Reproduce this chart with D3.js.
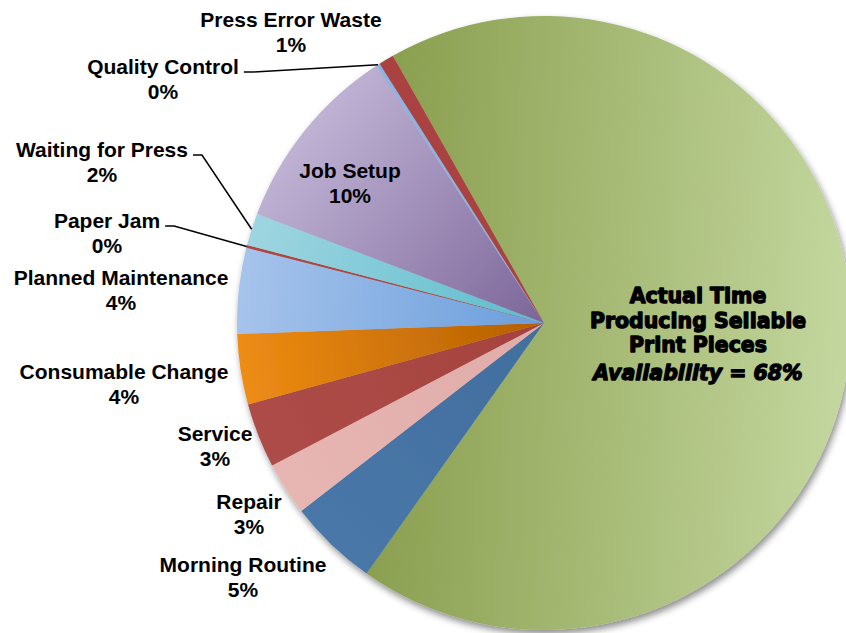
<!DOCTYPE html>
<html><head><meta charset="utf-8">
<script src="https://cdn.jsdelivr.net/npm/d3@7"></script>
<style>body{margin:0;background:#fff;overflow:hidden}</style>
</head><body>
<svg id="chart" width="846" height="633"></svg>
<script>
// ---- data ----
const categories = ["Actual Time Producing Sellable Print Pieces","Morning Routine","Repair","Service","Consumable Change","Planned Maintenance","Paper Jam","Waiting for Press","Job Setup","Quality Control","Press Error Waste"];
const values = [67.9, 4.7, 2.8, 3.4, 3.7, 4.5, 0.15, 1.7, 10.0, 0.2, 0.8];
const percentLabels = ["68%","5%","3%","3%","4%","4%","0%","2%","10%","0%","1%"];
const mainLabelLines = ["Actual Time","Producing Sellable","Print Pieces","Availability = 68%"];

// ---- styles ----
const outerColors = ["#c4d79f","#4877a8","#e7b5b2","#ad4c48","#ee8c14","#a6c3eb","#b0443f","#9fd5e1","#bfb2d4","#8db3e2","#a9433f"];
const innerColors = ["#8a9f4f","#426e9e","#dfaca9","#a5423e","#b45f00","#6a9edc","#b0443f","#5cbccc","#7c6699","#8db3e2","#a9433f"];

// ---- layout (label anchors: centre x, first baseline y) ----
const labelLayout = {
  "Morning Routine":    {x:243, y:572},
  "Repair":             {x:249, y:509},
  "Service":            {x:215, y:441},
  "Consumable Change":  {x:124, y:379},
  "Planned Maintenance":{x:121, y:285},
  "Paper Jam":          {x:107, y:228, leader:true},
  "Waiting for Press":  {x:102, y:157, leader:true},
  "Job Setup":          {x:350, y:178},
  "Quality Control":    {x:163, y:74, leader:true},
  "Press Error Waste":  {x:291, y:27}
};

const W = 846, H = 633, cx = 544, cy = 323, R = 307;
const start = -29.5 * Math.PI / 180;
const svg = d3.select("#chart");
const defs = svg.append("defs");

const f = defs.append("filter").attr("id","shadow")
  .attr("x","-10%").attr("y","-10%").attr("width","125%").attr("height","125%");
f.append("feDropShadow").attr("dx",2).attr("dy",4).attr("stdDeviation",3.5)
  .attr("flood-color","#000").attr("flood-opacity",0.45);

const pie = d3.pie().sort(null).value(d => d).startAngle(start).endAngle(start + 2*Math.PI);
const arcs = pie(values);
const arc = d3.arc().innerRadius(0).outerRadius(R);

// gradients in the pie group's own coordinates (centre = 0,0)
arcs.forEach((a, i) => {
  const mid = (a.startAngle + a.endAngle) / 2;
  const half = (a.endAngle - a.startAngle) / 2;
  const dx = Math.sin(mid), dy = -Math.cos(mid);
  const s = Math.min(0, R * Math.cos(half));
  const g = defs.append("linearGradient").attr("id","g"+i)
    .attr("gradientUnits","userSpaceOnUse")
    .attr("x1", dx*s).attr("y1", dy*s)
    .attr("x2", dx*R).attr("y2", dy*R);
  g.append("stop").attr("offset","0").attr("stop-color", innerColors[i]);
  g.append("stop").attr("offset","1").attr("stop-color", outerColors[i]);
});

const pieG = svg.append("g").attr("transform",`translate(${cx},${cy})`).attr("filter","url(#shadow)");
pieG.selectAll("path").data(arcs).join("path")
  .attr("d", arc)
  .attr("fill", (d,i) => `url(#g${i})`);

// ---- labels ----
const lblG = svg.append("g")
  .attr("font-family","'Liberation Sans', Arial, Helvetica, sans-serif")
  .attr("font-weight","bold").attr("font-size",21).attr("fill","#000")
  .attr("text-anchor","middle");

arcs.forEach((a, i) => {
  const name = categories[i];
  const L = labelLayout[name];
  if (!L) return;
  const t1 = lblG.append("text").attr("x", L.x).attr("y", L.y).text(name);
  lblG.append("text").attr("x", L.x).attr("y", L.y + 25).text(percentLabels[i]);
  if (L.leader) {
    const w = t1.node().getComputedTextLength();
    const x0 = L.x + w/2 + 5, y0 = L.y - 2;
    const mid = (a.startAngle + a.endAngle) / 2;
    const px = cx + Math.sin(mid)*R, py = cy - Math.cos(mid)*R;
    svg.append("polyline")
      .attr("points", `${x0},${y0} ${x0+9},${y0} ${px},${py}`)
      .attr("fill","none").attr("stroke","#000").attr("stroke-width",1.5);
  }
});

// main slice label
const mainG = svg.append("g")
  .attr("font-family","'DejaVu Sans', Verdana, sans-serif")
  .attr("font-weight","bold").attr("font-size",20.5).attr("fill","#000")
  .attr("stroke","#000").attr("stroke-width",1.3).attr("stroke-linejoin","round")
  .attr("text-anchor","middle");
const mainBase = [303, 327.5, 352, 380];
mainLabelLines.forEach((ln, k) => {
  mainG.append("text").attr("x", 698).attr("y", mainBase[k])
    .attr("font-style", k === 3 ? "italic" : null)
    .text(ln);
});
</script>
</body></html>
